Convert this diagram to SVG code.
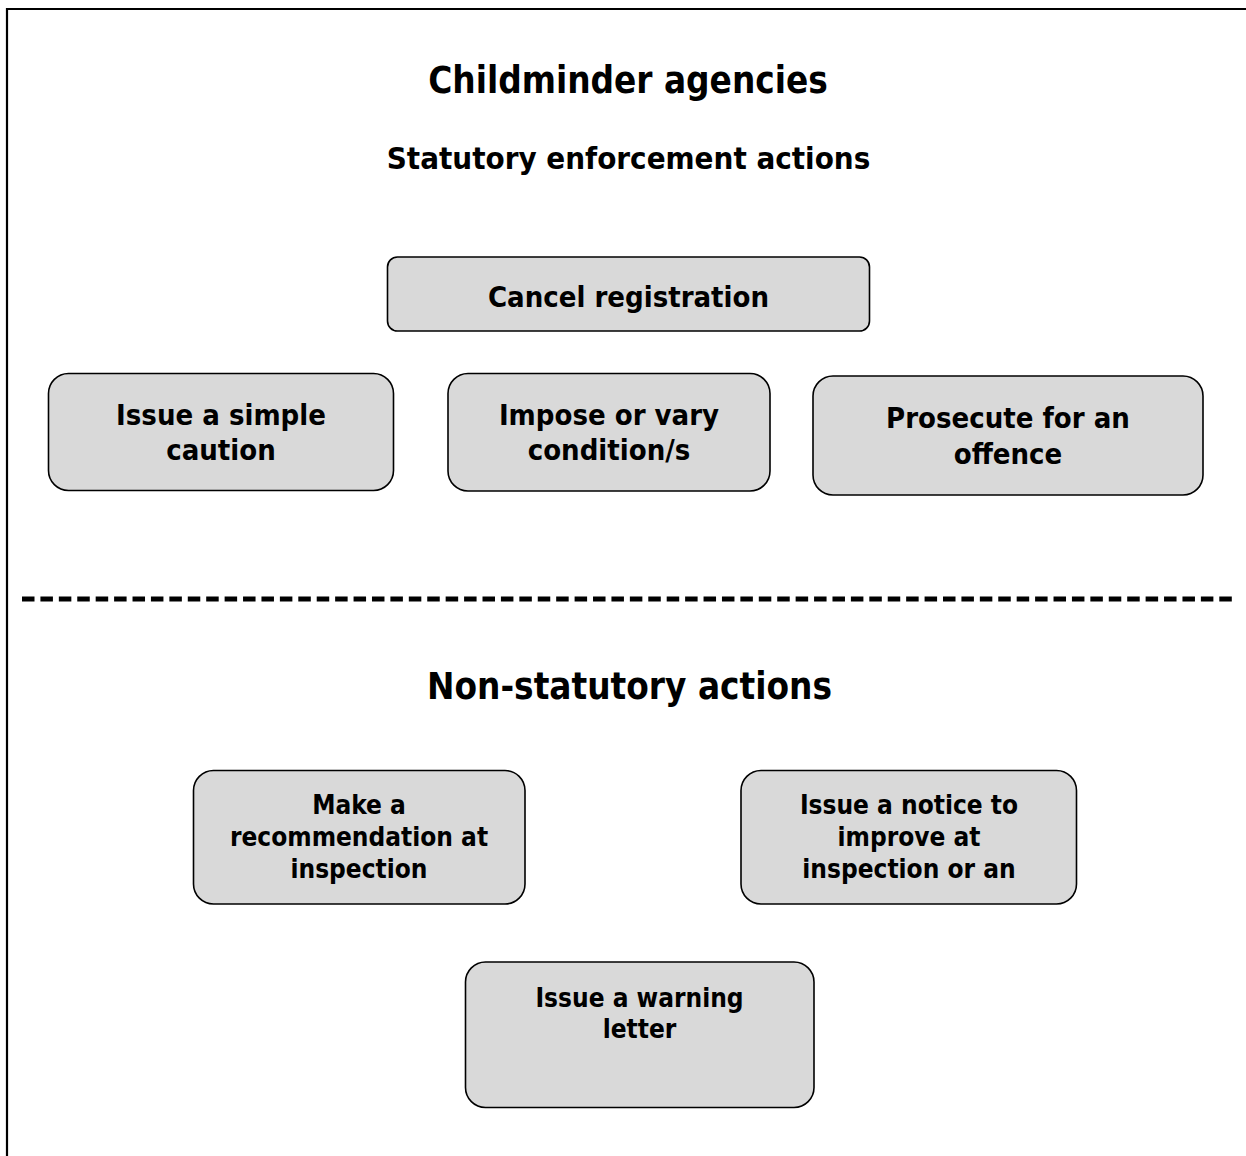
<svg xmlns="http://www.w3.org/2000/svg" width="1246" height="1156" viewBox="0 0 1246 1156">
<style>
  text { font-family: "DejaVu Sans Condensed", "DejaVu Sans", Verdana, sans-serif; font-weight: bold; fill: #000; text-anchor: middle; }
  .title { font-size: 36.5px; }
  .sub { font-size: 31px; }
  .b1 { font-size: 29px; }
  .b2 { font-size: 26px; }
  .box { fill: #d9d9d9; stroke: #000; stroke-width: 1.6; }
</style>
<rect x="0" y="0" width="1246" height="1156" fill="#fff"/>
<g id="frame" fill="none" stroke="#000" stroke-width="2.2">
  <line x1="7" y1="9" x2="1246" y2="9"/>
  <line x1="7" y1="8" x2="7" y2="1156"/>
</g>
<text class="title" x="628" y="93">Childminder agencies</text>
<text class="sub" x="628.5" y="169">Statutory enforcement actions</text>
<g id="cancel">
  <rect class="box" x="387.5" y="257" width="482" height="74" rx="10"/>
  <text class="b1" x="628.5" y="306.5">Cancel registration</text>
</g>
<g id="caution">
  <rect class="box" x="48.5" y="373.5" width="345" height="117" rx="20"/>
  <text class="b1" x="221" y="425">Issue a simple</text>
  <text class="b1" x="221" y="460">caution</text>
</g>
<g id="conditions">
  <rect class="box" x="448" y="373.5" width="322" height="117.5" rx="20"/>
  <text class="b1" x="609" y="425">Impose or vary</text>
  <text class="b1" x="609" y="460">condition/s</text>
</g>
<g id="prosecute">
  <rect class="box" x="813" y="376" width="390" height="119" rx="20"/>
  <text class="b1" x="1008" y="428">Prosecute for an</text>
  <text class="b1" x="1008" y="463.5">offence</text>
</g>
<line x1="22" y1="599" x2="1232" y2="599" stroke="#000" stroke-width="5" stroke-dasharray="12.5 5.92"/>
<text class="title" x="629.5" y="699">Non-statutory actions</text>
<g id="recommendation">
  <rect class="box" x="193.5" y="770.5" width="331.5" height="133.5" rx="20"/>
  <text class="b2" x="359" y="814">Make a</text>
  <text class="b2" x="359" y="846">recommendation at</text>
  <text class="b2" x="359" y="878">inspection</text>
</g>
<g id="notice">
  <rect class="box" x="741" y="770.5" width="335.5" height="133.5" rx="20"/>
  <text class="b2" x="909" y="814">Issue a notice to</text>
  <text class="b2" x="909" y="846">improve at</text>
  <text class="b2" x="909" y="878">inspection or an</text>
</g>
<g id="warning">
  <rect class="box" x="465.5" y="962" width="348.5" height="145.5" rx="20"/>
  <text class="b2" x="639.5" y="1006.5">Issue a warning</text>
  <text class="b2" x="639.5" y="1038">letter</text>
</g>
<g id="connectors"/>
</svg>
